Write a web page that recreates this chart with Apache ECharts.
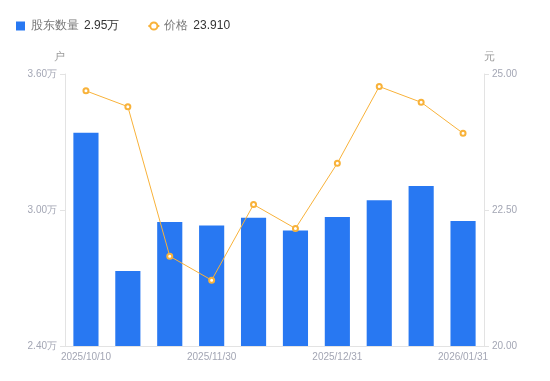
<!DOCTYPE html>
<html>
<head>
<meta charset="utf-8">
<script src="https://cdn.jsdelivr.net/npm/echarts@6/dist/echarts.min.js"></script>
<style>html,body{margin:0;padding:0;background:#fff;}#c{width:550px;height:381px;}</style>
</head>
<body>
<div id="c"></div>
<script>
var categories = ['2025/10/10','2025/10/31','2025/11/20','2025/11/30','2025/12/10','2025/12/20','2025/12/31','2026/01/10','2026/01/20','2026/01/31'];
var holders = [33410, 27310, 29470, 29320, 29660, 29100, 29690, 30430, 31060, 29510];
var prices = [24.69, 24.40, 21.65, 21.21, 22.60, 22.16, 23.36, 24.77, 24.48, 23.91];
var leftTicks = {min: 24000, max: 36000, interval: 6000};
var rightTicks = {min: 20, max: 25, interval: 2.5};

var chart = echarts.init(document.getElementById('c'), null, {renderer: 'canvas'});
var fmtWan = function (v) { return (v / 10000).toFixed(2) + '万'; };
var lastH = holders[holders.length - 1];
var lastP = prices[prices.length - 1];
chart.setOption({
  animation: false,
  textStyle: {fontFamily: 'sans-serif'},
  legend: {
    left: 11, top: 15, itemWidth: 11, itemHeight: 9, itemGap: 28,
    data: [
      {name: '股东数量', icon: 'path://M0,0L10,0L10,10L0,10Z'},
      {name: '价格'}
    ],
    formatter: function (name) {
      var v = name === '股东数量' ? fmtWan(lastH) : lastP.toFixed(3);
      return '{n|' + name + '}{v|' + v + '}';
    },
    textStyle: {
      rich: {
        n: {color: '#777', fontSize: 12},
        v: {color: '#333', fontSize: 12, padding: [0, 0, 0, 5]}
      }
    }
  },
  grid: {left: 65, right: 66, top: 74, bottom: 35},
  xAxis: {
    type: 'category',
    data: categories,
    axisLine: {lineStyle: {color: '#e3e3e3'}},
    axisTick: {show: false},
    axisLabel: {interval: 2, color: '#a3a6b4', fontSize: 10, margin: 6}
  },
  yAxis: [
    {
      type: 'value', name: '户', min: leftTicks.min, max: leftTicks.max, interval: leftTicks.interval,
      nameTextStyle: {color: '#999', fontSize: 11, align: 'right'},
      nameGap: 12,
      axisLine: {show: true, lineStyle: {color: '#e3e3e3'}},
      axisTick: {show: true, length: 5, lineStyle: {color: '#e3e3e3'}},
      axisLabel: {color: '#a3a6b4', fontSize: 10, margin: 8, formatter: fmtWan},
      splitLine: {show: false}
    },
    {
      type: 'value', name: '元', min: rightTicks.min, max: rightTicks.max, interval: rightTicks.interval,
      nameTextStyle: {color: '#999', fontSize: 11, align: 'left'},
      nameGap: 12,
      axisLine: {show: true, lineStyle: {color: '#e3e3e3'}},
      axisTick: {show: true, length: 5, lineStyle: {color: '#e3e3e3'}},
      axisLabel: {color: '#a3a6b4', fontSize: 10, margin: 8, formatter: function (v) { return v.toFixed(2); }},
      splitLine: {show: false}
    }
  ],
  series: [
    {
      name: '股东数量', type: 'bar', yAxisIndex: 0, data: holders,
      barCategoryGap: '40%',
      itemStyle: {color: '#2878f2'}
    },
    {
      name: '价格', type: 'line', yAxisIndex: 1, data: prices,
      symbol: 'emptyCircle', symbolSize: 5,
      lineStyle: {color: '#f8b23a', width: 1},
      itemStyle: {color: '#f8b23a', borderWidth: 2}
    }
  ]
});
</script>
</body>
</html>
